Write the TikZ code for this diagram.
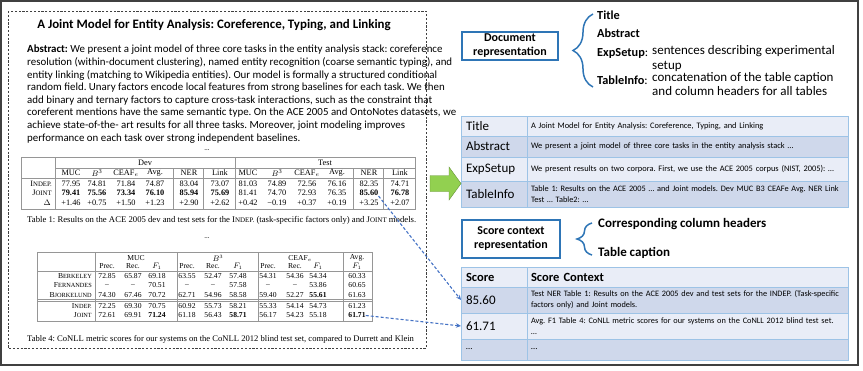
\documentclass[tikz,border=0pt]{standalone}
\usepackage{fontspec}
\setmainfont{Carlito}
\newfontfamily\tms{Liberation Serif}
\usetikzlibrary{arrows.meta, positioning, decorations.pathreplacing}
\definecolor{framegray}{RGB}{64, 64, 64}
\definecolor{rulegray}{RGB}{150, 150, 150}
\definecolor{repblue}{RGB}{46, 117, 182}
\definecolor{tblue}{RGB}{157, 195, 230}
\definecolor{celllight}{RGB}{233, 237, 247}
\definecolor{celldark}{RGB}{207, 216, 235}
\definecolor{arrgreen}{RGB}{146, 208, 80}
\definecolor{arrblue}{RGB}{68, 114, 196}
\newcommand{\smcsize}{6}
\newcommand{\smc}[2]{#1{\fontsize{\smcsize}{\smcsize}\selectfont #2}}
\def\tonex{{71,97,126,155,189,220,248,277,307,337,369,400}}
\def\tfourx{{107,133,157,187,213,238,268,295,318,357}}
\begin{document}
\frenchspacing
\begin{tikzpicture}[x=1pt, y=-1pt,
        frame/.style={draw=framegray, line width=1.2pt},
        pagebox/.style={draw=framegray, line width=0.8pt, dash pattern=on 2.2pt off 1.6pt},
        rule/.style={draw=rulegray, line width=0.5pt},
        tnum/.style={font=\tms\fontsize{8.3}{9}\selectfont\def\smcsize{6.8}, inner sep=0pt},
        snum/.style={font=\tms\fontsize{7.6}{8}\selectfont\def\smcsize{6.3}, inner sep=0pt},
        tcap/.style={font=\tms\fontsize{8.7}{10}\selectfont\def\smcsize{7}, inner sep=0pt, anchor=west},
        rep/.style={draw=repblue, line width=1.5pt, fill=white, align=center, inner sep=2pt, font=\bfseries\fontsize{12}{14}\selectfont},
        brc/.style={draw=repblue, line width=1.5pt, decorate, decoration={brace, amplitude=#1}},
        item/.style={anchor=west, inner sep=0pt, font=\bfseries\fontsize{12.3}{14.5}\selectfont},
        desc/.style={anchor=north west, inner sep=0pt, align=left, font=\fontsize{13}{14.5}\selectfont},
        labc/.style={draw=tblue, line width=0.9pt, anchor=north west, outer sep=0pt, inner xsep=5pt, inner ysep=1pt, text width=56pt, align=left, font=\fontsize{13}{14}\selectfont},
        txtc/.style={labc, inner xsep=4pt, text width=313pt, font=\fontsize{8.4}{10.5}\selectfont},
        darr/.style={draw=arrblue, line width=1.1pt, dash pattern=on 3pt off 2pt, -{Stealth[length=5pt, width=4.5pt]}}
      ]
        \useasboundingbox (0,0) rectangle (863,370);
        \draw[frame] (1,1) rectangle (858,365);
        \draw[pagebox] (8,11) rectangle (426,348);

        % paper page
        \node[font=\bfseries\fontsize{12.9}{14}\selectfont] (title) at (214,25) {A Joint Model for Entity Analysis: Coreference, Typing, and Linking};
        \node[anchor=north west, inner sep=0pt, align=left, font=\fontsize{10.9}{12.6}\selectfont] (abstract) at (27,45)
          {\textbf{Abstract:} We present a joint model of three core tasks in the entity analysis stack: coreference\\
           resolution (within-document clustering), named entity recognition (coarse semantic typing), and\\
           entity linking (matching to Wikipedia entities). Our model is formally a structured conditional\\
           random field. Unary factors encode local features from strong baselines for each task. We then\\
           add binary and ternary factors to capture cross-task interactions, such as the constraint that\\
           coreferent mentions have the same semantic type. On the ACE 2005 and OntoNotes datasets, we\\
           achieve state-of-the- art results for all three tasks. Moreover, joint modeling improves\\
           performance on each task over strong independent baselines.};
        \node[font=\fontsize{7}{8}\selectfont] (dotsa) at (207,150) {...};

        % table 1
        \draw[rule] (21,157) rectangle (415,209);
        \draw[rule] (55,168) -- (415,168);
        \draw[rule] (21,178) -- (415,178);
        \foreach \x in {55,235} \draw[rule] (\x,157) -- (\x,209);
        \foreach \x in {173,203,353,383} \draw[rule] (\x,168) -- (\x,209);
        \node[tnum] (dev) at (145,162.5) {Dev};
        \node[tnum] (test) at (325,162.5) {Test};
        \foreach \h [count=\c] in {MUC,$B^3$,CEAF$_e$,Avg.,NER,Link,MUC,$B^3$,CEAF$_e$,Avg.,NER,Link}
          {\pgfmathsetmacro\x{\tonex[\c-1]}
           \node[tnum] (head-\c) at (\x,173) {\h};}
        \node[tnum, anchor=east] (indep) at (52,183.5) {\smc{I}{NDEP.}};
        \node[tnum, anchor=east] (joint) at (52,193) {\smc{J}{OINT}};
        \node[tnum, anchor=east] (delta) at (51,203) {$\Delta$};
        \foreach \v [count=\c] in {77.95,74.81,71.84,74.87,83.04,73.07,81.03,74.89,72.56,76.16,82.35,74.71}
          {\pgfmathsetmacro\x{\tonex[\c-1]}
           \node[tnum] (indep-\c) at (\x,183.5) {\v};}
        \foreach \v [count=\c] in {\textbf{79.41},\textbf{75.56},\textbf{73.34},\textbf{76.10},\textbf{85.94},\textbf{75.69},81.41,74.70,72.93,76.35,\textbf{85.60},\textbf{76.78}}
          {\pgfmathsetmacro\x{\tonex[\c-1]}
           \node[tnum] (joint-\c) at (\x,193) {\v};}
        \foreach \v [count=\c] in {+1.46,+0.75,+1.50,+1.23,+2.90,+2.62,+0.42,−0.19,+0.37,+0.19,+3.25,+2.07}
          {\pgfmathsetmacro\x{\tonex[\c-1]}
           \node[tnum] (delta-\c) at (\x,203) {\v};}
        \node[tcap] (capa) at (27,220) {Table 1: Results on the ACE 2005 dev and test sets for the \smc{I}{NDEP.} (task-specific factors only) and \smc{J}{OINT} models.};
        \node[font=\fontsize{7}{8}\selectfont] (dotsb) at (207,238) {...};

        % table 4
        \draw[rule] (37,252) rectangle (372,321);
        \draw[rule] (37,271) -- (372,271);
        \draw[rule] (37,299.5) -- (372,299.5);
        \draw[rule] (37,301) -- (372,301);
        \foreach \x in {95,177,258,343} \draw[rule] (\x,252) -- (\x,321);
        \node[snum] (muc) at (136,258) {MUC};
        \node[snum] (bcube) at (218,258) {$B^3$};
        \node[snum] (ceaf) at (300,258) {CEAF$_e$};
        \node[snum] (avg) at (357,258) {Avg.};
        \foreach \h [count=\c] in {Prec.,Rec.,$F_1$,Prec.,Rec.,$F_1$,Prec.,Rec.,$F_1$,$F_1$}
          {\pgfmathsetmacro\x{\tfourx[\c-1]}
           \node[snum] (sub-\c) at (\x,266) {\h};}
        \node[snum, anchor=east] (berk) at (92,276) {\smc{B}{ERKELEY}};
        \node[snum, anchor=east] (fern) at (92,285.5) {\smc{F}{ERNANDES}};
        \node[snum, anchor=east] (bjork) at (92,295) {\smc{B}{JORKELUND}};
        \node[snum, anchor=east] (indepb) at (92,306) {\smc{I}{NDEP.}};
        \node[snum, anchor=east] (jointb) at (92,315.5) {\smc{J}{OINT}};
        \foreach \v [count=\c] in {72.85,65.87,69.18,63.55,52.47,57.48,54.31,54.36,54.34,60.33}
          {\pgfmathsetmacro\x{\tfourx[\c-1]}
           \node[snum] (berk-\c) at (\x,276) {\v};}
        \foreach \v [count=\c] in {–,–,70.51,–,–,57.58,–,–,53.86,60.65}
          {\pgfmathsetmacro\x{\tfourx[\c-1]}
           \node[snum] (fern-\c) at (\x,285.5) {\v};}
        \foreach \v [count=\c] in {74.30,67.46,70.72,62.71,54.96,58.58,59.40,52.27,\textbf{55.61},61.63}
          {\pgfmathsetmacro\x{\tfourx[\c-1]}
           \node[snum] (bjork-\c) at (\x,295) {\v};}
        \foreach \v [count=\c] in {72.25,69.30,70.75,60.92,55.73,58.21,55.33,54.14,54.73,61.23}
          {\pgfmathsetmacro\x{\tfourx[\c-1]}
           \node[snum] (indepb-\c) at (\x,306) {\v};}
        \foreach \v [count=\c] in {72.61,69.91,\textbf{71.24},61.18,56.43,\textbf{58.71},56.17,54.23,55.18,\textbf{61.71}}
          {\pgfmathsetmacro\x{\tfourx[\c-1]}
           \node[snum] (jointb-\c) at (\x,315.5) {\v};}
        \node[tcap, font=\tms\fontsize{8.6}{10}\selectfont] (capb) at (27,339) {Table 4: CoNLL metric scores for our systems on the CoNLL 2012 blind test set, compared to Durrett and Klein};

        % document representation
        \node[rep, minimum width=96pt, minimum height=28pt] (docrep) at (510,46) {Document\\representation};
        \draw[brc=20pt] (593,87) -- (593,14);
        \node[item] (ititle) at (597,15) {Title};
        \node[item] (iabs) at (597,33) {Abstract};
        \node[item] (iexp) at (597,53) {ExpSetup\textmd{:}};
        \node[desc] (iexpt) at (652,45.5) {sentences describing experimental\\setup};
        \node[item] (itab) at (597,80) {TableInfo\textmd{:}};
        \node[desc, font=\fontsize{13}{13.5}\selectfont] (itabt) at (652,72.5) {concatenation of the table caption\\and column headers for all tables};

        \node[labc, fill=celllight, minimum height=20pt] (ltitle) at (461,116) {Title};
        \node[txtc, fill=celllight, minimum height=20pt] (ttitle) at (527,116) {A Joint Model for Entity Analysis: Coreference, Typing, and Linking};
        \node[labc, fill=celldark, minimum height=21pt] (labs) at (461,136) {Abstract};
        \node[txtc, fill=celldark, minimum height=21pt] (tabs) at (527,136) {We present a joint model of three core tasks in the entity analysis stack …};
        \node[labc, fill=celllight, minimum height=24pt] (lexp) at (461,157) {ExpSetup};
        \node[txtc, fill=celllight, minimum height=24pt] (texp) at (527,157) {We present results on two corpora. First, we use the ACE 2005 corpus (NIST, 2005): …};
        \node[labc, fill=celldark, minimum height=26pt] (ltab) at (461,181) {TableInfo};
        \node[txtc, fill=celldark, minimum height=26pt, font=\fontsize{8.3}{10.5}\selectfont] (ttab) at (527,181) {Table 1: Results on the ACE 2005 … and Joint models. Dev MUC B3 CEAFe Avg. NER Link\\Test … Table2: …};

        \fill[arrgreen, draw=arrgreen!70!black, line width=0.4pt] (430,175.5) -- (449,175.5) -- (449,167) -- (461,183.5) -- (449,200) -- (449,191.5) -- (430,191.5) -- cycle;

        % score context representation
        \node[rep, minimum width=98pt, minimum height=38pt] (scorerep) at (511,239) {Score context\\representation};
        \draw[brc=15pt] (592,255) -- (592,223);
        \node[item, font=\bfseries\fontsize{13}{14}\selectfont] (icol) at (598,224) {Corresponding column headers};
        \node[item, font=\bfseries\fontsize{13}{14}\selectfont] (icap) at (598,253) {Table caption};

        \node[labc, fill=celllight, minimum height=20pt, font=\bfseries\fontsize{12.5}{14}\selectfont] (lscore) at (461,267) {Score};
        \node[txtc, fill=celllight, minimum height=20pt, font=\bfseries\fontsize{12.5}{14}\selectfont] (tscore) at (527,267) {Score Context};
        \node[labc, fill=celldark, minimum height=26pt, font=\fontsize{13}{14}\selectfont] (sca) at (461,287) {85.60};
        \node[txtc, fill=celldark, minimum height=26pt, font=\fontsize{8.3}{11}\selectfont] (sta) at (527,287) {Test NER Table 1: Results on the ACE 2005 dev and test sets for the INDEP. (Task-specific\\factors only) and Joint models.};
        \node[labc, fill=celllight, minimum height=26pt, font=\fontsize{13}{14}\selectfont] (scb) at (461,313) {61.71};
        \node[txtc, fill=celllight, minimum height=26pt, font=\fontsize{8.3}{11}\selectfont] (stb) at (527,313) {Avg. F1 Table 4: CoNLL metric scores for our systems on the CoNLL 2012 blind test set.\\…};
        \node[labc, fill=celldark, minimum height=21pt, font=\fontsize{9}{10}\selectfont] (scc) at (461,339) {…};
        \node[txtc, fill=celldark, minimum height=21pt, font=\fontsize{9}{10}\selectfont] (stc) at (527,339) {…};

        \draw[darr] (joint-11.south east) -- (sca.west);
        \draw[darr] (jointb-10.east) -- (scb.west);
      \end{tikzpicture}
\end{document}
